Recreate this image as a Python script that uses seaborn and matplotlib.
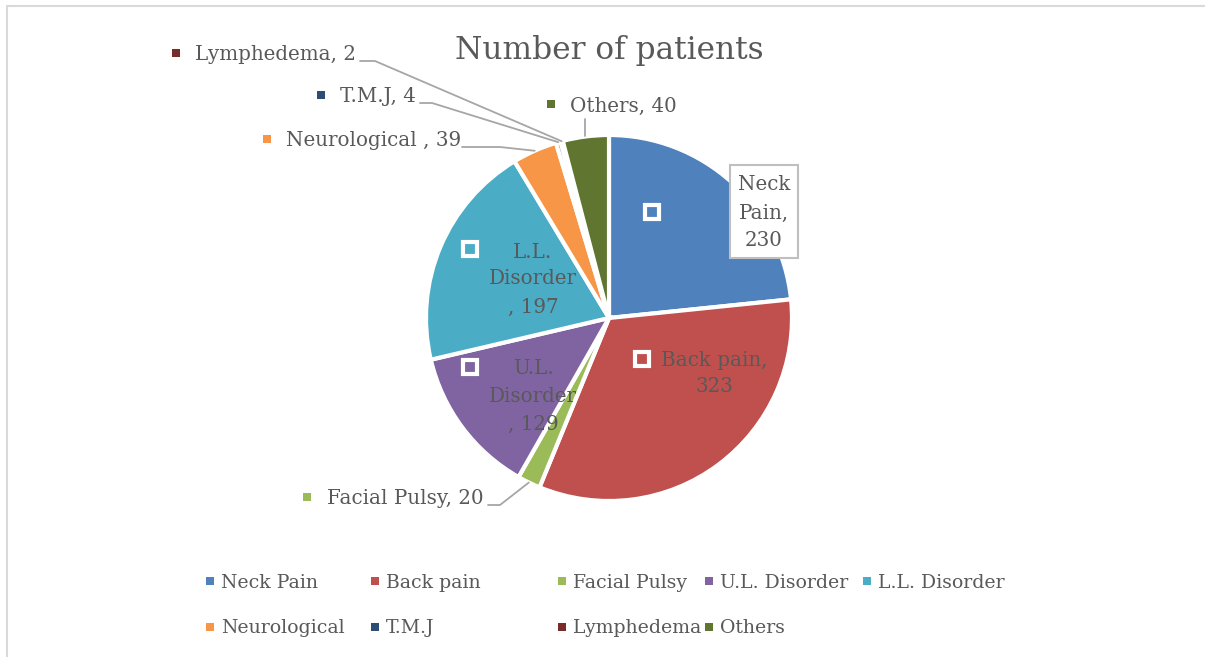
import numpy as np
import seaborn as sns
from matplotlib import pyplot as plt
from matplotlib.lines import Line2D

categories = ["Neck Pain", "Back pain", "Facial Pulsy", "U.L. Disorder", "L.L. Disorder",
              "Neurological", "T.M.J", "Lymphedema", "Others"]
patients = [230, 323, 20, 129, 197, 39, 4, 2, 40]
label_names = ["Neck Pain", "Back pain", "Facial Pulsy", "U.L. Disorder", "L.L. Disorder",
               "Neurological ", "T.M.J", "Lymphedema", "Others"]
colors = ["#4F81BD", "#C0504D", "#9BBB59", "#8064A2", "#4BACC6",
          "#F79646", "#2C4D75", "#772C2A", "#5F7530"]

W, H = 1205, 657
TXT = "#595959"
LINE = "#A6A6A6"

sns.set_theme(style="white")
plt.rcParams["font.family"] = ["DejaVu Serif"]

fig = plt.figure(figsize=(W / 100, H / 100), dpi=100)
ax = fig.add_axes([0, 0, 1, 1])

cx, cy, R = 609, H - 318, 183
wedges, _ = ax.pie(patients, colors=colors, startangle=90, counterclock=False,
                   center=(cx, cy), radius=R, frame=True,
                   wedgeprops=dict(edgecolor="white", linewidth=3))
ax.set_xlim(0, W)
ax.set_ylim(0, H)
ax.set_aspect("equal")
ax.axis("off")

# chart border (top and left visible)
ax.plot([6.5, 6.5, W], [0, H - 5.5, H - 5.5], color="#D9D9D9", lw=1.5)

ax.text(609, H - 50, "Number of patients", ha="center", va="center",
        fontsize=22.5, color=TXT)

fs = 14.3


def inner_label(i, mx, my, lines, tx, ys):
    ax.plot(mx, H - my, marker="s", ms=10, mfc=colors[i], mec="white", mew=3)
    for s, y in zip(lines, ys):
        ax.text(tx, H - y, s, ha="center", va="center", fontsize=fs, color=TXT)


def edge_point(i, frac=1.0):
    w = wedges[i]
    a = np.deg2rad((w.theta1 + w.theta2) / 2)
    return cx + R * frac * np.cos(a), cy + R * frac * np.sin(a)


# Neck pain boxed label
ax.add_patch(plt.Rectangle((730, H - 258), 68, 93, fc="white", ec="#BFBFBF", lw=1.5))
inner_label(0, 652, 212, ["Neck", "Pain,", f"{patients[0]}"], 764, [185, 213, 241])
inner_label(1, 642, 359, ["Back pain,", f"{patients[1]}"], 714, [360, 387])
inner_label(4, 470, 249, ["L.L.", "Disorder", f", {patients[4]}"], 533, [252, 279, 307])
inner_label(3, 470, 367, ["U.L.", "Disorder", f", {patients[3]}"], 533, [369, 396, 424])

# outside labels: (index, marker x, text x, y, line start x, elbow x)
outside = [
    (7, 176, 195, 55, 360, 375),
    (6, 321, 340, 97, 420, 432),
    (5, 267, 286, 141, 462, 500),
    (2, 307, 327, 499, 488, 500),
]
for i, mx, tx, y, lx, ex in outside:
    ax.plot(mx, H - y + 2, marker="s", ms=6, color=colors[i], mew=0)
    ax.text(tx, H - y, f"{label_names[i]}, {patients[i]}", ha="left", va="center",
            fontsize=fs, color=TXT)
    px, py = edge_point(i, 1.0)
    ax.plot([lx, ex, px], [H - y - 6, H - y - 6, py], color=LINE, lw=1.3)

# Others label above the pie
ox, oy = edge_point(8, 1.0)
ax.plot(551, H - 104, marker="s", ms=6, color=colors[8], mew=0)
ax.text(570, H - 106, f"{label_names[8]}, {patients[8]}", ha="left", va="center",
        fontsize=fs, color=TXT)
ax.plot([585, 585], [H - 119, oy], color=LINE, lw=1.3)

# legend: 5 columns laid out row by row, one legend per column
col_x = [205, 370, 557, 704, 862]
ncol = 5
for j, x0 in enumerate(col_x):
    idx = [k for k in (j, j + ncol) if k < len(categories)]
    handles = [Line2D([], [], marker="s", ls="", ms=6, mew=0, color=colors[k]) for k in idx]
    yc = 605.5 if len(idx) == 2 else 583
    leg = ax.legend(handles, [categories[k] for k in idx], loc="center left",
                    bbox_to_anchor=(x0 / W, 1 - yc / H), frameon=False, fontsize=13.6,
                    handlelength=0.5, handletextpad=0.35, labelspacing=1.45,
                    borderpad=0, borderaxespad=0, labelcolor=TXT)
    if j < len(col_x) - 1:
        ax.add_artist(leg)

fig.savefig("out.png", dpi=100)
